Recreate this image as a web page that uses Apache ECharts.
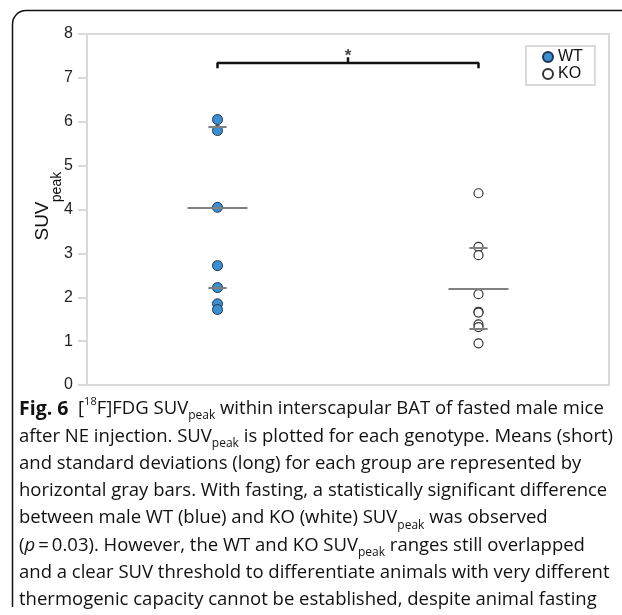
<!DOCTYPE html>
<html>
<head>
<meta charset="utf-8">
<script src="https://cdn.jsdelivr.net/npm/echarts@6/dist/echarts.min.js"></script>
<style>
  html, body { margin: 0; padding: 0; background: #fff; }
  #chart { width: 622px; height: 615px; }
</style>
</head>
<body>
<div id="chart"></div>
<script>
// groups and their x positions on the value axis
var groups = ['WT', 'KO'];
var groupX = [1, 2];

// SUVpeak per animal
var wtValues = [6.05, 5.8, 4.05, 2.72, 2.22, 1.85, 1.72];
var koValues = [4.37, 3.15, 2.96, 2.07, 1.67, 1.65, 1.38, 1.32, 0.95];

// gray bars: [upper short, long, lower short]
var wtBars = [5.88, 4.05, 2.21];
var koBars = [3.13, 2.2, 1.28];

// significance bracket (value units)
var bracketTop = 7.34;
var bracketFoot = 7.22;
var bracketTip = 7.47;
var starY = 7.5;

var yTicks = [0, 8, 1]; // min, max, interval

var longHalf = 0.115, shortHalf = 0.035;

function barLines(x, bars) {
  return bars.map(function (v, i) {
    var h = i === 1 ? longHalf : shortHalf;
    return [{ coord: [x - h, v] }, { coord: [x + h, v] }];
  });
}

function points(x, vals) {
  return vals.map(function (v) { return [x, v]; });
}

var font = "'Liberation Sans', Arial, sans-serif";
var capFont = "'Open Sans', 'Noto Sans', sans-serif";
var capSize = 18.5;
var capRich = {
  b: { fontWeight: 'bold', fontSize: 19.5, fontFamily: capFont, color: '#111', lineHeight: 26 },
  sup: { fontSize: 11, fontFamily: capFont, verticalAlign: 'top', lineHeight: 15, color: '#111' },
  sub: { fontSize: 12, fontFamily: capFont, verticalAlign: 'bottom', lineHeight: 13, color: '#111' },
  i: { fontStyle: 'italic', fontSize: capSize, fontFamily: capFont, color: '#111', lineHeight: 26 }
};
var captionLines = [
  '{b|Fig. 6}  [{sup|18}F]FDG SUV{sub|peak} within interscapular BAT of fasted male mice',
  'after NE injection. SUV{sub|peak} is plotted for each genotype. Means (short)',
  'and standard deviations (long) for each group are represented by',
  'horizontal gray bars. With fasting, a statistically significant difference',
  'between male WT (blue) and KO (white) SUV{sub|peak} was observed',
  '({i|p}\u2009=\u20090.03). However, the WT and KO SUV{sub|peak} ranges still overlapped',
  'and a clear SUV threshold to differentiate animals with very different',
  'thermogenic capacity cannot be established, despite animal fasting'
];

var frame = { stroke: '#111', lineWidth: 1.5, fill: null };
var graphics = [
  { type: 'line', shape: { x1: 12.5, y1: 607, x2: 12.5, y2: 24 }, style: frame },
  { type: 'line', shape: { x1: 26, y1: 10.5, x2: 622, y2: 10.5 }, style: frame },
  { type: 'arc', shape: { cx: 26, cy: 24, r: 13.5, startAngle: Math.PI, endAngle: Math.PI * 1.5 }, style: frame },
  // y axis title, SUV with subscript peak
  { type: 'text', x: 43, y: 221, rotation: Math.PI / 2,
    style: { text: 'SUV', fontSize: 19, fontFamily: font, fill: '#111', align: 'center', verticalAlign: 'middle' } },
  { type: 'text', x: 57, y: 187, rotation: Math.PI / 2,
    style: { text: 'peak', fontSize: 14, fontFamily: font, fill: '#111', align: 'center', verticalAlign: 'middle' } }
];
captionLines.forEach(function (t, i) {
  graphics.push({
    type: 'text',
    x: 19,
    y: 396 + i * 27.3,
    style: {
      text: t,
      rich: capRich,
      fontSize: capSize,
      fontFamily: capFont,
      fill: '#111',
      lineHeight: 26
    }
  });
});

var chart = echarts.init(document.getElementById('chart'));
chart.setOption({
  animation: false,
  grid: {
    left: 87, right: 13, top: 34, bottom: 230,
    show: true, borderColor: '#d9d9d9', borderWidth: 2
  },
  legend: {
    data: groups,
    orient: 'vertical',
    left: 526, top: 46,
    itemWidth: 10, itemHeight: 10, itemGap: 1,
    padding: [3, 12, 3, 16],
    borderColor: '#d9d9d9', borderWidth: 2,
    textStyle: { fontSize: 16, fontFamily: font, color: '#111', lineHeight: 16 }
  },
  xAxis: {
    type: 'value', min: 0.5, max: 2.5,
    axisLine: { show: true, lineStyle: { color: '#d9d9d9', width: 2 } },
    axisTick: { show: false }, axisLabel: { show: false }, splitLine: { show: false }
  },
  yAxis: {
    type: 'value', min: yTicks[0], max: yTicks[1], interval: yTicks[2],
    axisLine: { show: true, lineStyle: { color: '#d9d9d9', width: 2 } },
    axisTick: { show: true, length: 9, lineStyle: { color: '#d9d9d9', width: 2 } },
    axisLabel: { fontSize: 16, fontFamily: font, color: '#222', margin: 14 },
    splitLine: { show: false }
  },
  graphic: graphics,
  series: [
    {
      name: 'WT', type: 'scatter', symbol: 'circle', symbolSize: 10,
      data: points(groupX[0], wtValues),
      itemStyle: { color: '#3b8fd2', borderColor: '#1d3550', borderWidth: 1, opacity: 1 },
      z: 3,
      markLine: {
        silent: true, symbol: 'none', label: { show: false },
        lineStyle: { color: '#808080', width: 2, type: 'solid' },
        data: barLines(groupX[0], wtBars)
      }
    },
    {
      name: 'KO', type: 'scatter', symbol: 'circle', symbolSize: 9,
      data: points(groupX[1], koValues),
      itemStyle: { color: '#ffffff', borderColor: '#333', borderWidth: 1.2, opacity: 1 },
      z: 3,
      markLine: {
        silent: true, symbol: 'none', label: { show: false },
        lineStyle: { color: '#808080', width: 2, type: 'solid' },
        data: barLines(groupX[1], koBars)
      }
    },
    {
      type: 'line', symbol: 'none', silent: true,
      data: [[groupX[0], bracketFoot], [groupX[0], bracketTop], [groupX[1], bracketTop], [groupX[1], bracketFoot]],
      lineStyle: { color: '#111', width: 2.5 }
    },
    {
      type: 'line', symbol: 'none', silent: true,
      data: [[(groupX[0] + groupX[1]) / 2, bracketTop], [(groupX[0] + groupX[1]) / 2, bracketTip]],
      lineStyle: { color: '#111', width: 2.5 }
    },
    {
      type: 'scatter', symbolSize: 0, silent: true,
      data: [[(groupX[0] + groupX[1]) / 2, starY]],
      label: { show: true, formatter: '*', position: 'inside', fontSize: 17, fontWeight: 'bold', fontFamily: font, color: '#111' }
    }
  ]
});
</script>
</body>
</html>
